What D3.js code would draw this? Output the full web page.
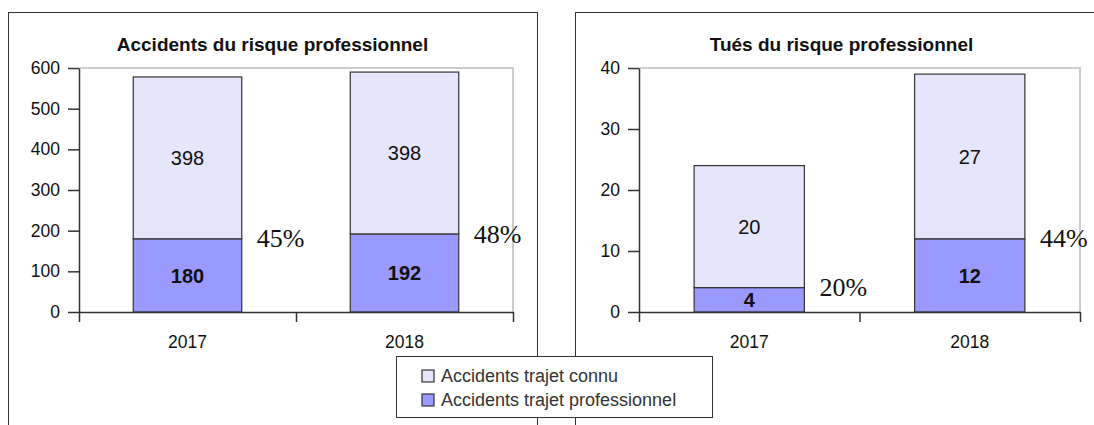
<!DOCTYPE html>
<html>
<head>
<meta charset="utf-8">
<script src="https://cdn.jsdelivr.net/npm/d3@7"></script>
<style>
  body { margin: 0; background: #fff; }
  svg { display: block; font-family: "Liberation Sans", Arial, sans-serif; }
  .pct { font-family: "Liberation Serif", "DejaVu Serif", "Times New Roman", serif; }
</style>
</head>
<body>
<div id="chart"></div>
<script>
// data
var years = ["2017", "2018"];
var accConnu = [398, 398];
var accPro = [180, 192];
var accPct = ["45%", "48%"];
var tuesConnu = [20, 27];
var tuesPro = [4, 12];
var tuesPct = ["20%", "44%"];
var seriesNames = ["Accidents trajet connu", "Accidents trajet professionnel"];
var colors = ["#e5e5fb", "#9999ff"];

var W = 1094, H = 425;
var svg = d3.select("#chart").append("svg")
    .attr("width", W)
    .attr("height", H);

function panel(opt) {
    var g = svg.append("g");

    // panel frame
    g.append("rect")
        .attr("x", opt.frame[0] + 0.5)
        .attr("y", 12.5)
        .attr("width", opt.frame[1] - opt.frame[0])
        .attr("height", 500)
        .attr("fill", "none")
        .attr("stroke", "#333")
        .attr("stroke-width", 1);

    g.append("text")
        .attr("x", (opt.frame[0] + opt.frame[1]) / 2)
        .attr("y", 51)
        .attr("text-anchor", "middle")
        .attr("font-size", "19px")
        .attr("font-weight", "bold")
        .attr("fill", "#111")
        .text(opt.title);

    var x = d3.scaleBand()
        .domain(years)
        .range([opt.left, opt.right])
        .paddingInner(0.5)
        .paddingOuter(0.25);

    var y = d3.scaleLinear()
        .domain([0, opt.max])
        .range([312, 68]);

    // light grey frame of the plot area
    g.append("path")
        .attr("d", "M" + opt.left + "," + y(opt.max) + "H" + opt.right + "V" + y(0))
        .attr("fill", "none")
        .attr("stroke", "#bdbdbd")
        .attr("stroke-width", 1.5);

    // bars
    var stack = years.map(function (yr, i) {
        return { year: yr, pro: opt.pro[i], connu: opt.connu[i], pct: opt.pct[i] };
    });

    var bars = g.selectAll(".bar").data(stack).enter().append("g");

    bars.append("rect")
        .attr("x", function (d) { return x(d.year); })
        .attr("y", function (d) { return y(d.pro); })
        .attr("width", x.bandwidth())
        .attr("height", function (d) { return y(0) - y(d.pro); })
        .attr("fill", colors[1])
        .attr("stroke", "#333")
        .attr("stroke-width", 1.2);

    bars.append("rect")
        .attr("x", function (d) { return x(d.year); })
        .attr("y", function (d) { return y(d.pro + d.connu); })
        .attr("width", x.bandwidth())
        .attr("height", function (d) { return y(d.pro) - y(d.pro + d.connu); })
        .attr("fill", colors[0])
        .attr("stroke", "#333")
        .attr("stroke-width", 1.2);

    bars.append("text")
        .attr("x", function (d) { return x(d.year) + x.bandwidth() / 2; })
        .attr("y", function (d) { return (y(d.pro) + y(d.pro + d.connu)) / 2; })
        .attr("dy", "0.36em")
        .attr("text-anchor", "middle")
        .attr("font-size", "20px")
        .attr("fill", "#111")
        .text(function (d) { return d.connu; });

    bars.append("text")
        .attr("x", function (d) { return x(d.year) + x.bandwidth() / 2; })
        .attr("y", function (d) { return (y(0) + y(d.pro)) / 2; })
        .attr("dy", "0.36em")
        .attr("text-anchor", "middle")
        .attr("font-size", "20px")
        .attr("font-weight", "bold")
        .attr("fill", "#111")
        .text(function (d) { return d.pro; });

    bars.append("text")
        .attr("class", "pct")
        .attr("x", function (d) { return x(d.year) + x.bandwidth() + 15; })
        .attr("y", function (d) { return y(d.pro); })
        .attr("dy", "0.33em")
        .style("font-family", "'Liberation Serif', 'DejaVu Serif', serif")
        .style("font-size", "26px")
        .attr("fill", "#111")
        .text(function (d) { return d.pct; });

    // y axis
    var yAxis = g.append("g")
        .attr("transform", "translate(" + opt.left + ",0)")
        .call(d3.axisLeft(y).ticks(opt.max / opt.step).tickSize(11).tickSizeOuter(0).tickPadding(8));
    yAxis.attr("font-family", null).attr("font-size", null);
    yAxis.select(".domain").attr("stroke", "#333").attr("stroke-width", 1.5);
    yAxis.selectAll(".tick line").attr("stroke", "#333").attr("stroke-width", 1.5);
    yAxis.selectAll(".tick text").attr("font-size", "17.5px").attr("fill", "#111");

    // x axis: tick marks at band boundaries, labels at band centres
    var xb = d3.scaleLinear().domain([0, years.length]).range([opt.left, opt.right]);
    var xAxis = g.append("g")
        .attr("transform", "translate(0," + y(0) + ")")
        .call(d3.axisBottom(xb).tickValues(d3.range(years.length + 1)).tickSize(10).tickSizeOuter(0).tickFormat(""));
    xAxis.select(".domain").attr("stroke", "#333").attr("stroke-width", 1.5);
    xAxis.selectAll(".tick line").attr("stroke", "#333").attr("stroke-width", 1.5);

    var xLab = g.append("g")
        .attr("transform", "translate(0," + (y(0) + 10) + ")")
        .call(d3.axisBottom(x).tickSize(0).tickPadding(14));
    xLab.attr("font-family", null).attr("font-size", null);
    xLab.select(".domain").remove();
    xLab.selectAll(".tick text").attr("font-size", "17.5px").attr("fill", "#111");
}

panel({
    title: "Accidents du risque professionnel",
    frame: [8, 537],
    left: 79, right: 513,
    max: 600, step: 100,
    connu: accConnu, pro: accPro, pct: accPct
});

panel({
    title: "Tués du risque professionnel",
    frame: [575, 1108],
    left: 639, right: 1080,
    max: 40, step: 10,
    connu: tuesConnu, pro: tuesPro, pct: tuesPct
});

// legend
var lg = svg.append("g").attr("transform", "translate(396,356)");
lg.append("rect")
    .attr("x", 0.5).attr("y", 0.5)
    .attr("width", 316).attr("height", 61)
    .attr("fill", "#fff")
    .attr("stroke", "#333");

var items = lg.selectAll(".item").data(seriesNames).enter().append("g")
    .attr("transform", function (d, i) { return "translate(26," + (20 + i * 24) + ")"; });
items.append("rect")
    .attr("x", 0).attr("y", -6)
    .attr("width", 12).attr("height", 12)
    .attr("fill", function (d, i) { return colors[i]; })
    .attr("stroke", "#333")
    .attr("stroke-width", 1.2);
items.append("text")
    .attr("x", 19)
    .attr("dy", "0.35em")
    .attr("font-size", "18px")
    .attr("fill", "#333")
    .text(function (d) { return d; });
</script>
</body>
</html>
